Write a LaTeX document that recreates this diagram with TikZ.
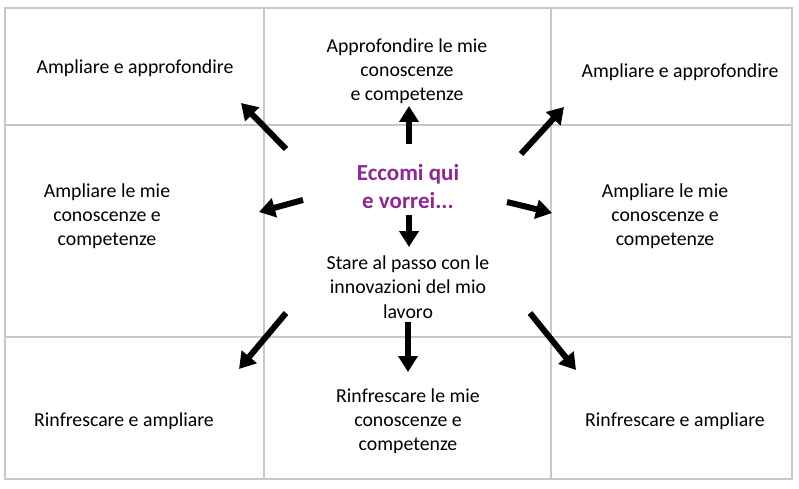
\documentclass[tikz,border=0pt]{standalone}
\usepackage{fontspec}
\setmainfont{Carlito}
\usepackage{xcolor}
\usetikzlibrary{arrows.meta}
\definecolor{eccomi}{RGB}{142,40,142}
\definecolor{gridgray}{RGB}{200,200,200}

\begin{document}
\begin{tikzpicture}[
    x=1pt, y=-1pt,
    every node/.style={
        align=center, inner sep=0pt,
        font=\fontsize{19.8}{24.2}\selectfont
    },
    gridline/.style={draw=gridgray, line width=2pt},
    arr/.style={-{Triangle[length=16pt,width=19pt]}, line width=6pt}
]
\useasboundingbox (0,0) rectangle (799,489);
% grid
\draw[gridline] (5,8) rectangle (792,479);
\draw[gridline] (264,8) -- (264,479);
\draw[gridline] (551,8) -- (551,479);
\draw[gridline] (5,125) -- (792,125);
\draw[gridline] (5,337) -- (792,337);

\node (tl) at (135,68)  {Ampliare e approfondire};
\node (tm) at (407,71)  {Approfondire le mie\\conoscenze\\e competenze};
\node (tr) at (680,72)  {Ampliare e approfondire};
\node (ml) at (107,216) {Ampliare le mie\\conoscenze e\\competenze};
\node (mr) at (665,216) {Ampliare le mie\\conoscenze e\\competenze};
\node[font=\fontsize{23}{28}\selectfont\bfseries, text=eccomi] (me) at (408,187) {Eccomi qui\\e vorrei...};
\node (mm) at (408,287) {Stare al passo con le\\innovazioni del mio\\lavoro};
\node (bl) at (124,421) {Rinfrescare e ampliare};
\node (bm) at (408,421) {Rinfrescare le mie\\conoscenze e\\competenze};
\node (br) at (675,421) {Rinfrescare e ampliare};

% arrow ends
\coordinate (ulA) at (286,149); \coordinate (ulB) at (241,103);
\coordinate (upA) at (409,144); \coordinate (upB) at (409,106);
\coordinate (urA) at (521,154); \coordinate (urB) at (564,107);
\coordinate (lfA) at (303,200); \coordinate (lfB) at (259,212);
\coordinate (rtA) at (507,202); \coordinate (rtB) at (552,213);
\coordinate (dnA) at (409,215); \coordinate (dnB) at (409,247);
\coordinate (dlA) at (286,313); \coordinate (dlB) at (239,369);
\coordinate (dbA) at (408,322); \coordinate (dbB) at (408,372);
\coordinate (drA) at (530,313); \coordinate (drB) at (576,370);

\draw[arr] (ulA) -- (ulB);
\draw[arr] (upA) -- (upB);
\draw[arr] (urA) -- (urB);
\draw[arr] (lfA) -- (lfB);
\draw[arr] (rtA) -- (rtB);
\draw[arr] (dnA) -- (dnB);
\draw[arr] (dlA) -- (dlB);
\draw[arr] (dbA) -- (dbB);
\draw[arr] (drA) -- (drB);
\end{tikzpicture}
\end{document}
